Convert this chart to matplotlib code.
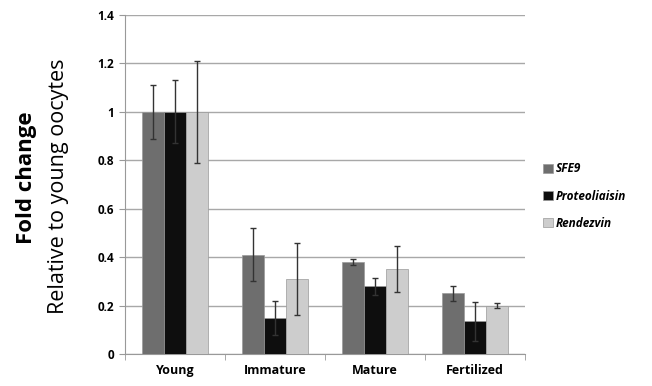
import matplotlib
matplotlib.use("Agg")
import matplotlib.pyplot as plt
import numpy as np

categories = ["Young", "Immature", "Mature", "Fertilized"]
series = ["SFE9", "Proteoliaisin", "Rendezvin"]
sfe9 = [1.0, 0.41, 0.38, 0.25]
sfe9_err = [0.11, 0.11, 0.012, 0.03]
proteo = [1.0, 0.15, 0.28, 0.135]
proteo_err = [0.13, 0.07, 0.035, 0.08]
rendez = [1.0, 0.31, 0.35, 0.20]
rendez_err = [0.21, 0.15, 0.095, 0.012]
colors = ["#6e6e6e", "#0e0e0e", "#cdcdcd"]

plt.rcParams["font.family"] = ["Open Sans", "DejaVu Sans"]

fig = plt.figure(figsize=(6.52, 3.86), dpi=100)
ax = fig.add_axes([0.192, 0.083, 0.613, 0.878])

x = np.arange(len(categories))
w = 0.22
vals = [sfe9, proteo, rendez]
errs = [sfe9_err, proteo_err, rendez_err]
for i, (v, e) in enumerate(zip(vals, errs)):
    ax.bar(x + (i - 1) * w, v, w, color=colors[i], edgecolor="#9a9a9a", linewidth=0.5,
           yerr=e, capsize=2.5, error_kw=dict(ecolor="#333333", elinewidth=1.0, capthick=1.0),
           label=series[i], zorder=3)

ax.set_xlim(-0.5, 3.5)
ax.set_ylim(0, 1.4)
ax.set_yticks(np.arange(0, 1.41, 0.2))
ax.set_yticklabels(["0", "0.2", "0.4", "0.6", "0.8", "1", "1.2", "1.4"], fontweight="bold", fontsize=8.5)
ax.set_xticks(x)
ax.set_xticklabels(categories, fontweight="bold", fontsize=9)
ax.tick_params(axis="x", length=0, pad=7)
ax.set_xticks(np.arange(-0.5, 3.6, 1.0), minor=True)
ax.tick_params(axis="x", which="minor", length=4, color="#999999", direction="out")
ax.tick_params(axis="y", length=4, color="#999999", direction="out", pad=4)
ax.yaxis.grid(True, color="#a8a8a8", linewidth=1.0, zorder=0)
for s in ["top", "right"]:
    ax.spines[s].set_visible(False)
for s in ["left", "bottom"]:
    ax.spines[s].set_color("#999999")

fig.text(0.04, 0.54, "Fold change", rotation=90, ha="center", va="center",
         fontsize=16, fontweight="bold")
fig.text(0.089, 0.518, "Relative to young oocytes", rotation=90, ha="center", va="center",
         fontsize=15.5)

leg = ax.legend(loc="center left", bbox_to_anchor=(1.02, 0.466), frameon=False,
                prop=dict(style="italic", weight="bold", size=8.5),
                handlelength=0.8, handleheight=0.8, handletextpad=0.2, labelspacing=1.2)

fig.savefig("out.png", dpi=100)
